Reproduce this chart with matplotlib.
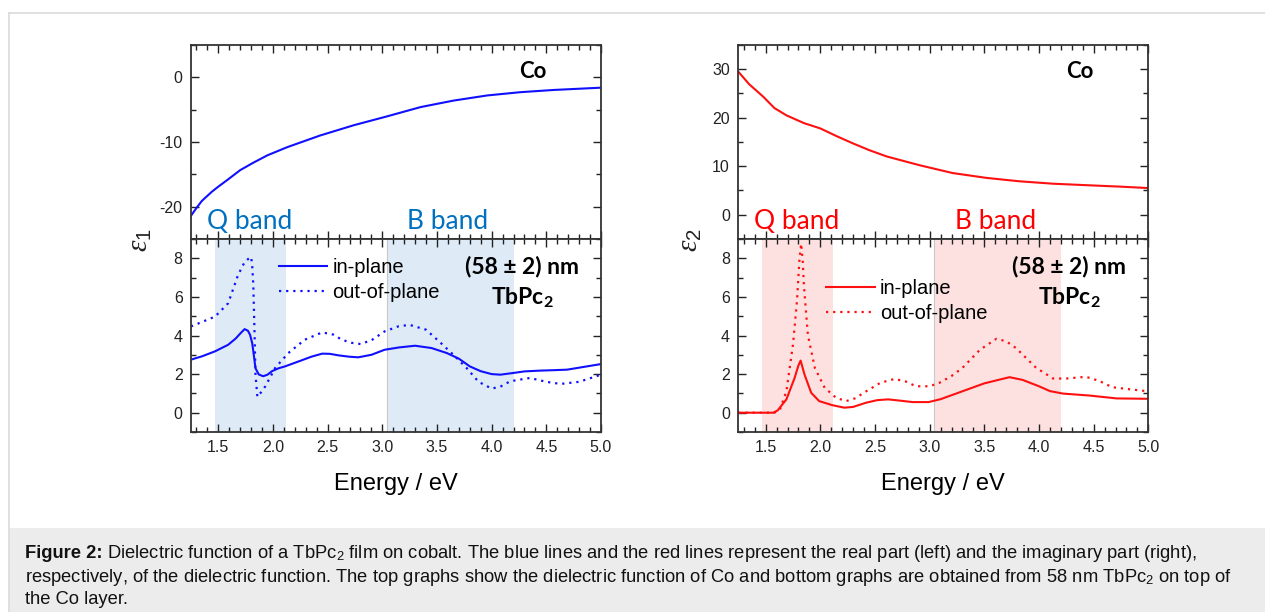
import matplotlib
matplotlib.use("Agg")
import matplotlib.pyplot as plt
import matplotlib.ticker as mticker
from matplotlib.patches import Rectangle
from matplotlib.lines import Line2D

plt.rcParams["font.family"] = ["Liberation Sans", "DejaVu Sans"]
plt.rcParams["axes.unicode_minus"] = False
plt.rcParams["mathtext.fontset"] = "custom"
plt.rcParams["mathtext.rm"] = "Liberation Sans"
plt.rcParams["mathtext.it"] = "Liberation Serif:italic"
plt.rcParams["mathtext.bf"] = "Lato:bold"

# Co layer (top panels)
co_e1_energy = [1.25, 1.30, 1.35, 1.44, 1.50, 1.58, 1.70, 1.82, 1.95, 2.13, 2.43, 2.74, 3.04, 3.35,
                3.65, 3.96, 4.26, 4.57, 5.00]
co_e1 = [-21.4, -20.2, -19.1, -17.7, -16.9, -15.9, -14.35, -13.2, -12.05, -10.8, -9.0, -7.4, -6.05,
         -4.6, -3.6, -2.8, -2.3, -1.95, -1.6]

co_e2_energy = [1.25, 1.35, 1.48, 1.58, 1.69, 1.85, 2.00, 2.15, 2.30, 2.45, 2.61, 2.91, 3.21, 3.52,
                3.82, 4.13, 4.43, 4.74, 5.00]
co_e2 = [29.5, 26.9, 24.3, 22.0, 20.5, 18.9, 17.8, 16.2, 14.7, 13.3, 12.0, 10.2, 8.6, 7.6,
         6.9, 6.4, 6.1, 5.8, 5.5]

# TbPc2 film, real part
e1_in_energy = [1.25, 1.35, 1.47, 1.59, 1.66, 1.70, 1.74, 1.77, 1.79, 1.81, 1.82, 1.84, 1.87, 1.91,
                1.95, 1.99, 2.05, 2.11, 2.26, 2.35, 2.45, 2.52, 2.60, 2.70, 2.78, 2.90, 3.02, 3.15,
                3.30, 3.45, 3.59, 3.70, 3.80, 3.90, 4.00, 4.08, 4.20, 4.30, 4.44, 4.55, 4.69, 4.85, 5.00]
e1_in = [2.75, 2.92, 3.18, 3.52, 3.85, 4.10, 4.33, 4.25, 4.04, 3.60, 3.18, 2.30, 1.98, 1.89,
         1.97, 2.15, 2.30, 2.40, 2.71, 2.90, 3.06, 3.05, 2.97, 2.90, 2.87, 3.00, 3.26, 3.38,
         3.47, 3.35, 3.09, 2.80, 2.40, 2.15, 2.00, 1.97, 2.06, 2.14, 2.18, 2.20, 2.23, 2.38, 2.52]

e1_out_energy = [1.25, 1.35, 1.47, 1.59, 1.68, 1.74, 1.78, 1.80, 1.81, 1.82, 1.83, 1.84, 1.857, 1.89,
                 1.93, 2.02, 2.14, 2.29, 2.45, 2.55, 2.63, 2.72, 2.80, 2.90, 3.02, 3.15, 3.25, 3.40,
                 3.52, 3.65, 3.77, 3.88, 4.00, 4.08, 4.17, 4.35, 4.50, 4.63, 4.80, 5.00]
e1_out = [4.47, 4.70, 4.98, 5.67, 7.13, 7.80, 8.00, 8.07, 7.60, 6.60, 4.38, 1.97, 0.82, 1.05,
          1.37, 2.32, 3.09, 3.78, 4.16, 4.05, 3.78, 3.62, 3.56, 3.75, 4.21, 4.48, 4.55, 4.30,
          3.69, 3.00, 2.32, 1.60, 1.25, 1.35, 1.63, 1.80, 1.60, 1.49, 1.60, 1.97]

# TbPc2 film, imaginary part
e2_in_energy = [1.25, 1.57, 1.61, 1.69, 1.765, 1.80, 1.82, 1.856, 1.917, 1.99, 2.11, 2.22, 2.30, 2.42,
                2.52, 2.62, 2.72, 2.845, 2.99, 3.10, 3.30, 3.50, 3.73, 3.85, 4.00, 4.10, 4.22, 4.46,
                4.71, 5.00]
e2_in = [0.0, 0.0, 0.12, 0.69, 1.80, 2.45, 2.70, 1.97, 1.03, 0.60, 0.39, 0.26, 0.30, 0.52,
         0.65, 0.69, 0.63, 0.55, 0.55, 0.70, 1.11, 1.52, 1.84, 1.70, 1.37, 1.12, 0.99, 0.89,
         0.74, 0.72]

e2_out_energy = [1.25, 1.58, 1.63, 1.69, 1.75, 1.786, 1.81, 1.825, 1.84, 1.85, 1.886, 1.95, 2.04, 2.145,
                 2.236, 2.32, 2.42, 2.55, 2.68, 2.78, 2.875, 3.00, 3.09, 3.20, 3.30, 3.46, 3.61, 3.70,
                 3.79, 3.975, 4.13, 4.25, 4.43, 4.55, 4.67, 4.85, 5.00]
e2_out = [0.0, 0.0, 0.15, 1.11, 3.52, 5.75, 8.0, 8.76, 7.80, 6.60, 4.04, 2.32, 1.29, 0.77,
          0.60, 0.75, 1.11, 1.55, 1.75, 1.62, 1.37, 1.37, 1.55, 1.90, 2.32, 3.26, 3.83, 3.70,
          3.35, 2.32, 1.77, 1.77, 1.86, 1.65, 1.32, 1.20, 1.11]

q_band = (1.47, 2.12)
b_band = (3.04, 4.20)

W, H = 1265, 612
fig = plt.figure(figsize=(W / 100, H / 100), dpi=100)

def px(x, y):
  return x / W, 1 - y / H

def style_axes(ax, major_y, minor_y):
  ax.set_xlim(1.25, 5.0)
  ax.xaxis.set_major_locator(mticker.MultipleLocator(0.5))
  ax.xaxis.set_minor_locator(mticker.MultipleLocator(0.1))
  ax.yaxis.set_major_locator(mticker.MultipleLocator(major_y))
  ax.yaxis.set_minor_locator(mticker.MultipleLocator(minor_y))
  ax.tick_params(which="both", direction="in", top=True, right=True, colors="#222222",
                 labelsize=11.5, pad=6)
  ax.tick_params(which="major", length=6, width=1.0)
  ax.tick_params(which="minor", length=3.5, width=1.0)
  for s in ax.spines.values():
    s.set_linewidth(1.3)
    s.set_color("#333333")

ax_w = 410 / W
top_b, top_h = 1 - 239 / H, 194 / H
bot_b, bot_h = 1 - 432 / H, 193 / H

panels = [
  dict(left=191 / W, color="#1010ff", band_color="#deebf7", text_color="#0070c0",
       co_x=co_e1_energy, co_y=co_e1, co_lim=(-25, 5),
       in_x=e1_in_energy, in_y=e1_in, out_x=e1_out_energy, out_y=e1_out,
       ylab=r"$\varepsilon_\mathrm{1}$", ylab_x=140, leg_y=0.90),
  dict(left=738.3 / W, color="#ff1010", band_color="#fde1e1", text_color="#ff0000",
       co_x=co_e2_energy, co_y=co_e2, co_lim=(-5, 35),
       in_x=e2_in_energy, in_y=e2_in, out_x=e2_out_energy, out_y=e2_out,
       ylab=r"$\varepsilon_\mathrm{2}$", ylab_x=690, leg_y=0.795),
]

for p in panels:
  ax_t = fig.add_axes([p["left"], top_b, ax_w, top_h])
  ax_b = fig.add_axes([p["left"], bot_b, ax_w, bot_h])

  ax_t.plot(p["co_x"], p["co_y"], color=p["color"], lw=1.5)
  ax_t.set_ylim(*p["co_lim"])
  style_axes(ax_t, 10, 5)
  ax_t.tick_params(labelbottom=False)
  ax_t.text(0.834, 0.862, "Co", transform=ax_t.transAxes, ha="center", va="center",
            family="Lato", fontweight="bold", fontsize=16)
  ax_t.text(0.038, 0.052, "Q band", transform=ax_t.transAxes, ha="left", va="baseline",
            family="Lato", fontsize=19, color=p["text_color"])
  ax_t.text(0.528, 0.052, "B band", transform=ax_t.transAxes, ha="left", va="baseline",
            family="Lato", fontsize=19, color=p["text_color"])

  ax_b.axvspan(*q_band, color=p["band_color"], lw=0, zorder=0)
  ax_b.axvspan(*b_band, color=p["band_color"], lw=0, zorder=0)
  ax_b.axvline(b_band[0], color="#c8c8c8", lw=0.8, zorder=0.5)
  ax_b.plot(p["in_x"], p["in_y"], color=p["color"], lw=1.5, label="in-plane")
  ax_b.plot(p["out_x"], p["out_y"], color=p["color"], lw=1.6, ls=(0, (1, 2.2)),
            label="out-of-plane")
  ax_b.set_ylim(-1, 9)
  style_axes(ax_b, 2, 1)
  ax_b.set_xlabel("Energy / eV", fontsize=17, labelpad=13)
  ax_b.legend(loc="upper left", bbox_to_anchor=(0.215, p["leg_y"]), frameon=False,
              fontsize=14.5, handlelength=2.4, handletextpad=0.25, labelspacing=0.3,
              borderpad=0, borderaxespad=0)
  ax_b.text(0.807, 0.856, "(58 ± 2) nm", transform=ax_b.transAxes, ha="center", va="center",
            family="Lato", fontweight="bold", fontsize=16.5)
  ax_b.text(0.807, 0.694, r"TbPc$_\mathbf{2}$", transform=ax_b.transAxes, ha="center",
            va="center", family="Lato", fontweight="bold", fontsize=16.5)

  fig.text(*px(p["ylab_x"], 240), p["ylab"], rotation=90, ha="center", va="center",
           fontsize=21, color="#222222")

# page frame and caption box
fig.patches.append(Rectangle(px(9, 612), 1 - 9 / W, (612 - 528) / H, transform=fig.transFigure,
                             facecolor="#ececec", edgecolor="none"))
fig.lines.append(Line2D([9 / W, 9 / W], [0, 1 - 13 / H], transform=fig.transFigure,
                        color="#dadada", lw=1.2))
fig.lines.append(Line2D([9 / W, 1], [1 - 13 / H, 1 - 13 / H], transform=fig.transFigure,
                        color="#dadada", lw=1.2))

cap_size = 13.2
renderer = fig.canvas.get_renderer()
t_bold = fig.text(*px(25, 553), "Figure 2:", fontweight="bold", fontsize=cap_size,
                  va="center", ha="left", color="#111111")
bb = t_bold.get_window_extent(renderer=renderer)
fig.text(bb.x1 / W, 1 - 553 / H,
         r" Dielectric function of a TbPc$_\mathrm{2}$ film on cobalt. The blue lines and the red "
         r"lines represent the real part (left) and the imaginary part (right),",
         fontsize=cap_size, va="center", ha="left", color="#111111")
fig.text(*px(25, 577),
         r"respectively, of the dielectric function. The top graphs show the dielectric function "
         r"of Co and bottom graphs are obtained from 58 nm TbPc$_\mathrm{2}$ on top of",
         fontsize=cap_size, va="center", ha="left", color="#111111")
fig.text(*px(25, 600), "the Co layer.", fontsize=cap_size, va="center", ha="left",
         color="#111111")

fig.savefig("out.png", dpi=100)
